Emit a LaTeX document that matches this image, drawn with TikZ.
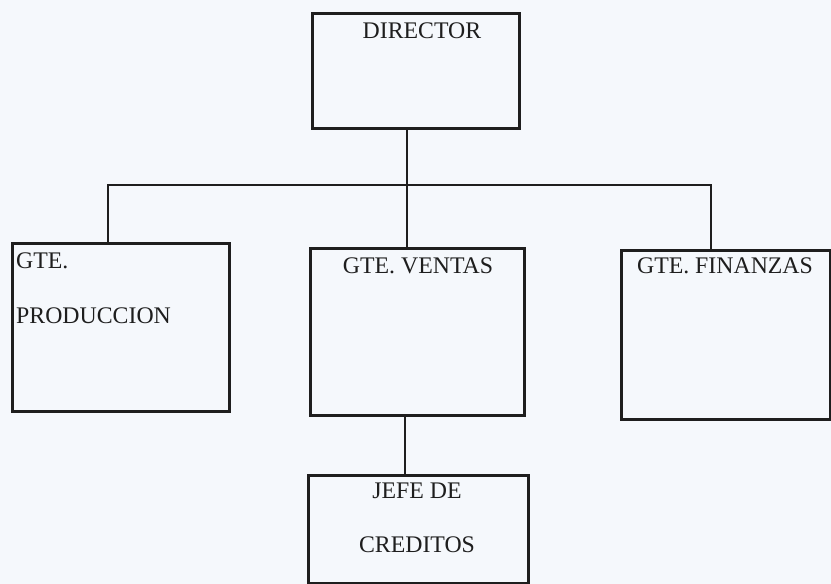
\documentclass[tikz,border=0pt]{standalone}
\usepackage{fontspec}
\setmainfont{Liberation Serif}
\definecolor{paper}{HTML}{F5F8FC}
\definecolor{ink}{HTML}{1E1E1E}

\begin{document}
\begin{tikzpicture}[x=1pt, y=-1pt,
    box/.style={draw=ink, line width=3pt, rectangle, inner sep=0pt, anchor=north west},
    lbl/.style={font=\fontsize{23.8}{28}\selectfont, text=ink, anchor=base, inner sep=0pt},
    wire/.style={draw=ink, line width=2.8pt},
]

% Page
\useasboundingbox (0,0) rectangle (831,584);
\fill[paper] (0,0) rectangle (831,584);

% Boxes
\node[box, minimum width=207pt, minimum height=115pt] (dir)  at (311,12)  {};
\node[box, minimum width=217pt, minimum height=168pt] (prod) at (11,242)  {};
\node[box, minimum width=214pt, minimum height=167pt] (vent) at (309,247) {};
\node[box, minimum width=209pt, minimum height=169pt] (fin)  at (620,249) {};
\node[box, minimum width=220pt, minimum height=108pt] (jefe) at (307,474) {};

% Labels
\node[lbl] (tdir) at (422,38) {DIRECTOR};
\node[lbl, anchor=base west] (tprodA) at (16,268) {GTE.};
\node[lbl, anchor=base west] (tprodB) at (16,323) {PRODUCCION};
\node[lbl] (tvent) at (418,273) {GTE. VENTAS};
\node[lbl] (tfin) at (725,273) {GTE. FINANZAS};
\node[lbl] (tjefeA) at (417,498) {JEFE DE};
\node[lbl] (tjefeB) at (417,552) {CREDITOS};

% Bus and links
\coordinate (busL) at (108,185);
\coordinate (busM) at (407,185);
\coordinate (busR) at (711,185);
\coordinate (lnk) at (405,444);

\draw[wire] (busL |- prod.north) -- (busL) -- (busR) -- (busR |- fin.north);
\draw[wire] (dir.south -| busM) -- (busM |- vent.north);
\draw[wire] (lnk |- vent.south) -- (lnk |- jefe.north);

\end{tikzpicture}
\end{document}
